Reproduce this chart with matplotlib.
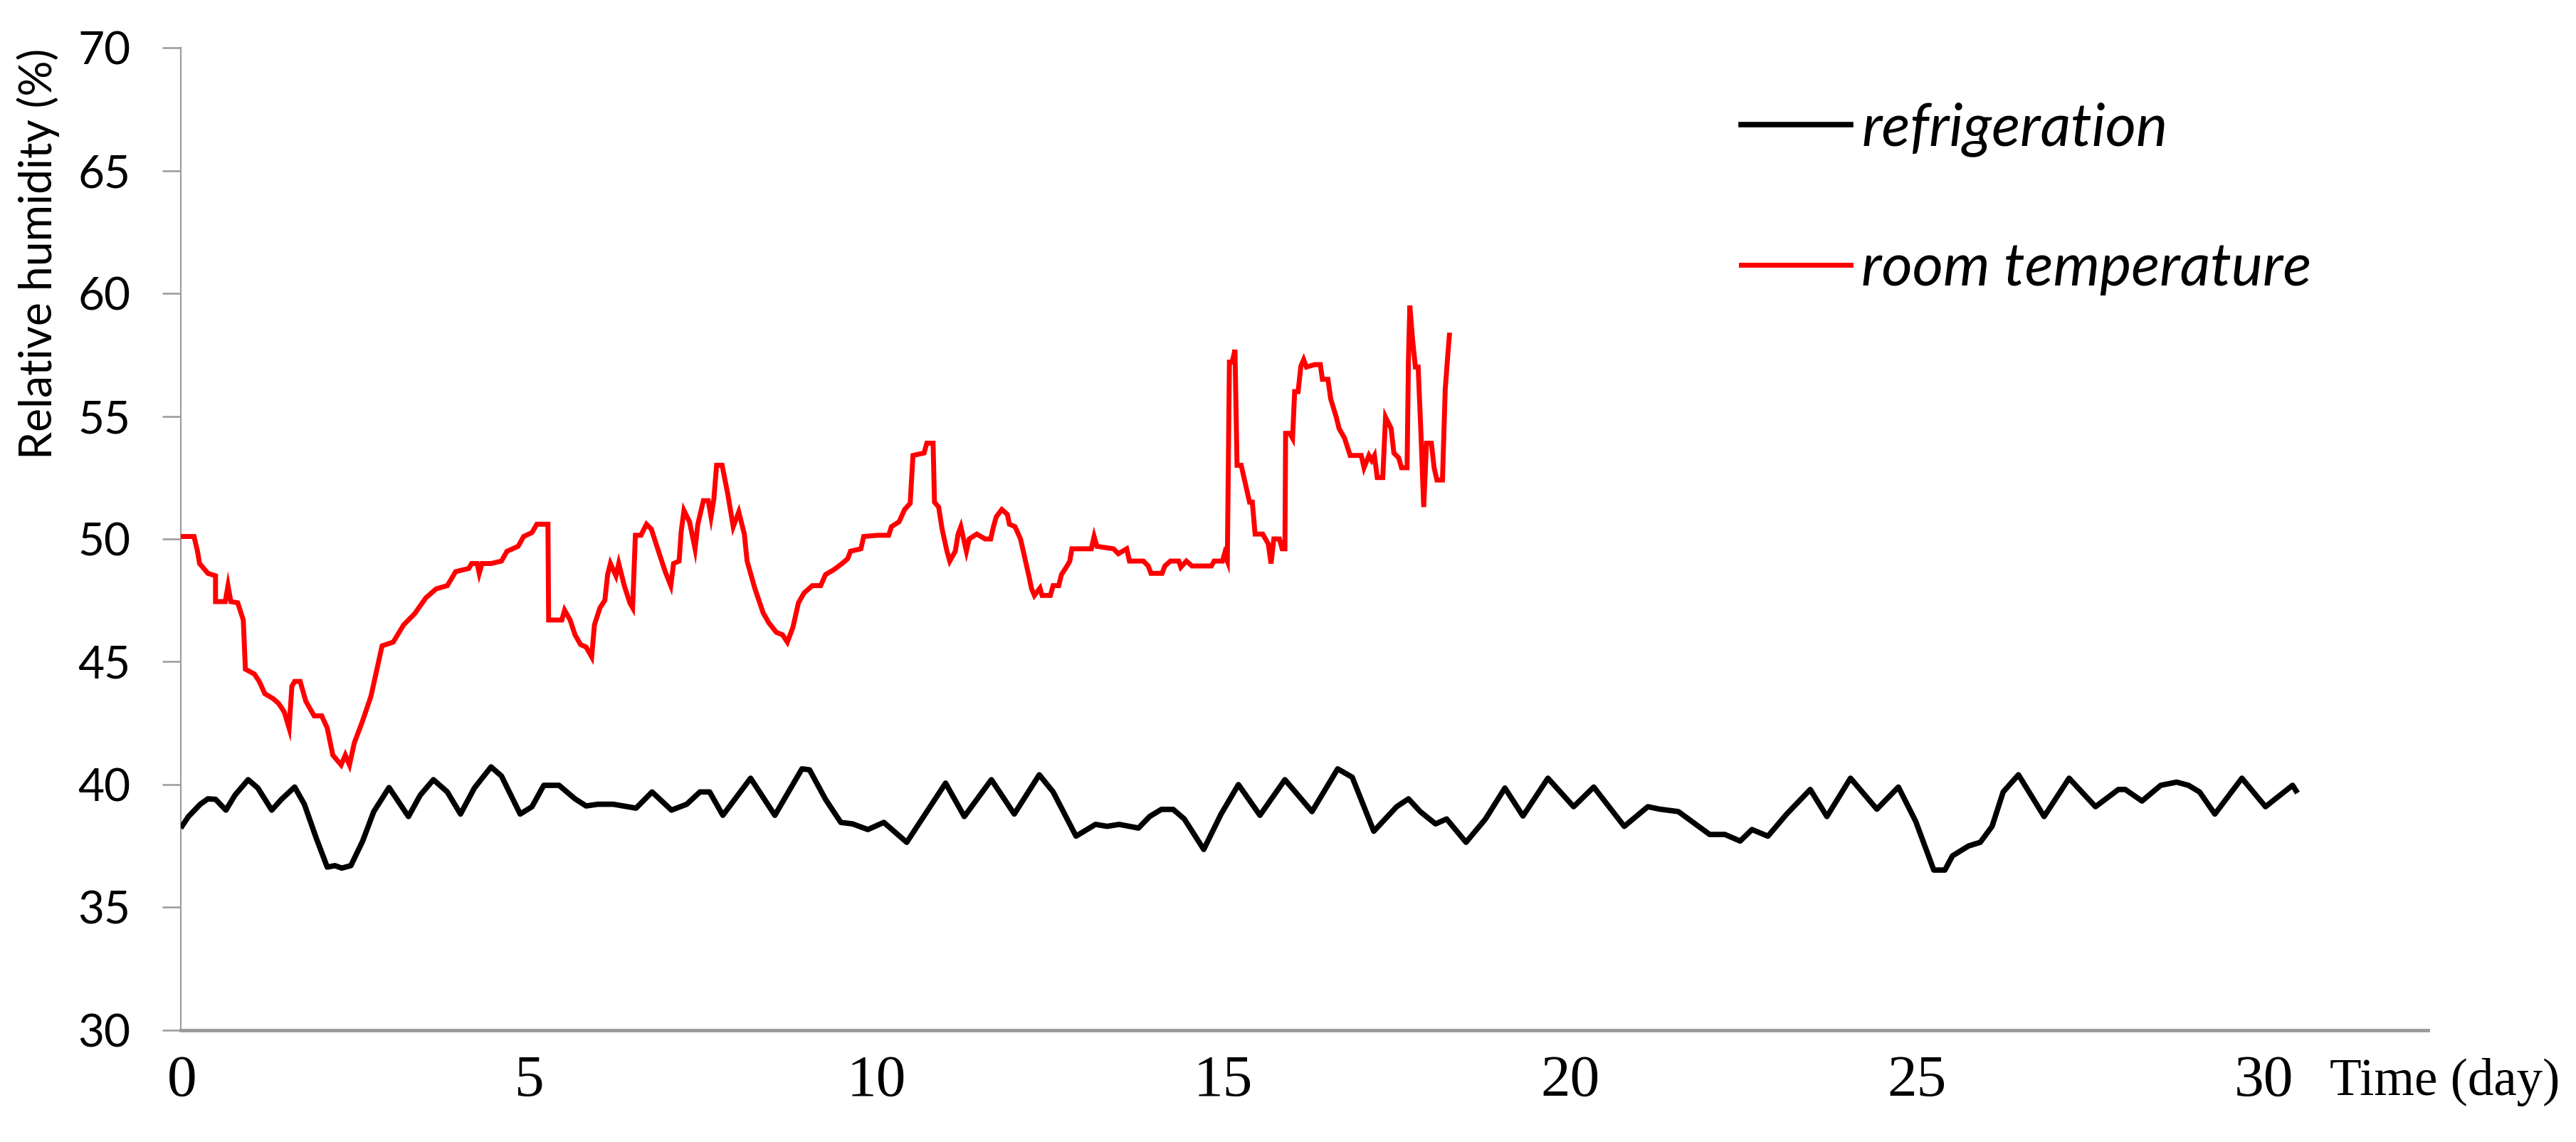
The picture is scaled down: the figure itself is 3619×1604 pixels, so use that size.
import matplotlib
matplotlib.use("Agg")
import matplotlib.pyplot as plt

# relative humidity readings
ref_day = [0.0, 0.09, 0.26, 0.37, 0.48, 0.63, 0.76, 0.95, 1.09, 1.29, 1.43, 1.62, 1.76, 1.93,
           2.09, 2.20, 2.30, 2.43, 2.60, 2.76, 2.98, 3.26, 3.43, 3.62, 3.82, 4.01, 4.21, 4.45,
           4.60, 4.87, 5.04, 5.21, 5.43, 5.66, 5.82, 5.99, 6.21, 6.54, 6.77, 7.05, 7.27, 7.46,
           7.60, 7.79, 8.19, 8.54, 8.93, 9.04, 9.27, 9.49, 9.66, 9.88, 10.11, 10.44, 11.00,
           11.27, 11.66, 11.99, 12.35, 12.55, 12.88, 13.16, 13.33, 13.50, 13.78, 13.94, 14.11,
           14.28, 14.44, 14.72, 14.97, 15.22, 15.53, 15.89, 16.28, 16.65, 16.86, 17.17, 17.50,
           17.67, 17.84, 18.06, 18.22, 18.50, 18.78, 19.06, 19.32, 19.68, 20.05, 20.34, 20.78,
           21.12, 21.29, 21.56, 22.01, 22.23, 22.45, 22.62, 22.85, 23.12, 23.46, 23.70, 24.04,
           24.42, 24.73, 24.98, 25.24, 25.40, 25.51, 25.74, 25.91, 26.08, 26.24, 26.46, 26.83,
           27.19, 27.57, 27.90, 28.00, 28.24, 28.51, 28.74, 28.91, 29.07, 29.29, 29.68, 30.02,
           30.41, 30.46]
ref_rh = [38.32, 38.7, 39.2, 39.42, 39.4, 38.96, 39.57, 40.2, 39.86, 38.96, 39.4, 39.9, 39.2, 37.83,
          36.64, 36.7, 36.6, 36.7, 37.7, 38.9, 39.88, 38.7, 39.57, 40.2, 39.7, 38.8, 39.86, 40.72,
          40.35, 38.8, 39.1, 39.97, 39.97, 39.42, 39.13, 39.2, 39.2, 39.04, 39.7, 38.96, 39.2, 39.7,
          39.7, 38.75, 40.26, 38.75, 40.64, 40.6, 39.4, 38.46, 38.4, 38.17, 38.46, 37.65, 40.06,
          38.7, 40.2, 38.8, 40.4, 39.7, 37.9, 38.38, 38.3, 38.38, 38.23, 38.7, 38.99,
          38.99, 38.6, 37.36, 38.8, 40.0, 38.75, 40.2, 38.9, 40.64, 40.3, 38.1, 39.1,
          39.42, 38.9, 38.4, 38.6, 37.65, 38.6, 39.86, 38.72, 40.26, 39.1, 39.9, 38.3,
          39.1, 39.0, 38.9, 37.97, 37.97, 37.7, 38.17, 37.9, 38.8, 39.8, 38.7, 40.26,
          39.0, 39.9, 38.5, 36.52, 36.52, 37.1, 37.5, 37.65, 38.3, 39.7, 40.4, 38.7,
          40.26, 39.1, 39.8, 39.8, 39.33, 39.97, 40.1, 39.97, 39.7, 38.8, 40.26, 39.1,
          39.97, 39.75]

room_day = [0.0, 0.17, 0.22, 0.25, 0.37, 0.48, 0.48, 0.62, 0.66, 0.70, 0.80, 0.88, 0.91, 1.04,
            1.11, 1.19, 1.31, 1.39, 1.47, 1.54, 1.58, 1.62, 1.70, 1.78, 1.90, 2.01, 2.09, 2.17,
            2.29, 2.35, 2.41, 2.48, 2.60, 2.72, 2.88, 3.04, 3.19, 3.35, 3.51, 3.66, 3.82, 3.94,
            4.13, 4.17, 4.25, 4.28, 4.32, 4.45, 4.60, 4.68, 4.84, 4.92, 5.04, 5.11, 5.27, 5.28,
            5.47, 5.51, 5.59, 5.66, 5.74, 5.82, 5.90, 5.94, 6.02, 6.09, 6.13, 6.17, 6.25, 6.29,
            6.37, 6.45, 6.49, 6.53, 6.61, 6.69, 6.76, 6.84, 6.96, 7.04, 7.08, 7.16, 7.19, 7.23,
            7.31, 7.39, 7.43, 7.51, 7.58, 7.62, 7.66, 7.70, 7.78, 7.86, 7.94, 8.02, 8.10, 8.14,
            8.25, 8.37, 8.45, 8.56, 8.65, 8.72, 8.80, 8.88, 8.96, 9.08, 9.20, 9.27, 9.39, 9.51,
            9.59, 9.63, 9.78, 9.82, 10.02, 10.18, 10.22, 10.33, 10.41, 10.49, 10.53, 10.69,
            10.73, 10.82, 10.84, 10.90, 10.95, 11.02, 11.06, 11.14, 11.18, 11.22, 11.30, 11.34,
            11.45, 11.57, 11.65, 11.69, 11.73, 11.81, 11.89, 11.92, 12.00, 12.08, 12.12, 12.16,
            12.20, 12.24, 12.28, 12.36, 12.39, 12.51, 12.55, 12.63, 12.67, 12.75, 12.79, 12.82,
            13.10, 13.14, 13.18, 13.42, 13.49, 13.61, 13.65, 13.85, 13.92, 13.96, 14.12, 14.16,
            14.24, 14.36, 14.39, 14.47, 14.55, 14.83, 14.87, 14.99, 15.02, 15.06, 15.09, 15.13,
            15.17, 15.20, 15.26, 15.30, 15.38, 15.42, 15.46, 15.57, 15.65, 15.69, 15.73, 15.81,
            15.85, 15.89, 15.90, 15.96, 16.00, 16.03, 16.08, 16.12, 16.16, 16.20, 16.32, 16.40,
            16.43, 16.51, 16.55, 16.63, 16.67, 16.75, 16.83, 16.99, 17.03, 17.10, 17.14, 17.18,
            17.22, 17.30, 17.34, 17.42, 17.46, 17.53, 17.57, 17.65, 17.67, 17.69, 17.73, 17.77,
            17.81, 17.85, 17.89, 17.93, 18.00, 18.04, 18.08, 18.16, 18.20, 18.24, 18.26]
room_rh = [50.1, 50.1, 49.5, 49.0, 48.6, 48.5, 47.45, 47.45, 48.1, 47.45, 47.4, 46.7, 44.7, 44.5,
           44.2, 43.7, 43.5, 43.3, 42.96, 42.3, 44.0, 44.2, 44.2, 43.4, 42.8, 42.8, 42.3, 41.2,
           40.8, 41.2, 40.8, 41.7, 42.6, 43.6, 45.65, 45.8, 46.5, 46.96, 47.6, 47.97, 48.1, 48.67,
           48.8, 49.0, 49.0, 48.6, 49.0, 49.0, 49.1, 49.5, 49.7, 50.1, 50.26, 50.6, 50.6, 46.7,
           46.7, 47.1, 46.7, 46.1, 45.7, 45.6, 45.2, 46.5, 47.2, 47.5, 48.55, 49.0, 48.5, 49.0,
           48.1, 47.4, 47.2, 50.15, 50.15, 50.6, 50.4, 49.7, 48.67, 48.1, 49.0, 49.1, 50.3, 51.16,
           50.7, 49.6, 50.6, 51.56, 51.56, 50.9, 51.6, 53.0, 53.0, 51.85, 50.5, 51.1, 50.2, 49.1,
           48.0, 47.0, 46.6, 46.2, 46.1, 45.8, 46.4, 47.4, 47.8, 48.1, 48.1, 48.55, 48.75, 49.0,
           49.2, 49.5, 49.6, 50.1, 50.15, 50.15, 50.5, 50.7, 51.2, 51.45, 53.4, 53.5,
           53.9, 53.9, 51.5, 51.3, 50.4, 49.5, 49.1, 49.5, 50.2, 50.5, 49.5, 50.0,
           50.2, 50.0, 50.0, 50.5, 50.9, 51.2, 51.0, 50.6, 50.5, 50.0, 49.5, 49.0,
           48.5, 47.97, 47.7, 48.0, 47.7, 47.7, 48.1, 48.1, 48.55, 48.9, 49.1, 49.6,
           49.6, 50.1, 49.7, 49.6, 49.4, 49.6, 49.1, 49.1, 48.9, 48.6, 48.6, 48.9,
           49.1, 49.1, 48.85, 49.1, 48.9, 48.9, 49.1, 49.1, 49.4, 49.1, 57.2, 57.2,
           57.7, 53.0, 53.0, 52.5, 51.5, 51.5, 50.2, 50.2, 49.8, 49.0, 50.0, 50.0,
           49.6, 49.6, 54.3, 54.3, 54.1, 56.0, 56.0, 57.04, 57.3, 57.0, 57.1, 57.1,
           56.5, 56.5, 55.7, 54.96, 54.5, 54.1, 53.4, 53.4, 52.9, 53.4, 53.2, 53.4,
           52.5, 52.5, 54.96, 54.5, 53.5, 53.3, 52.9, 52.9, 57.3, 59.5, 58.1, 57.0,
           57.0, 54.3, 51.3, 53.9, 53.9, 52.9, 52.4, 52.4, 56.1, 57.6, 58.3]

x_ticks = [0, 5, 10, 15, 20, 25, 30]
y_ticks = [30, 35, 40, 45, 50, 55, 60, 65, 70]

SANS = 'Lato'
AXIS_GREY = '#9a9a9a'

fig = plt.figure(figsize=(36.19, 16.04), dpi=100)
ax = fig.add_axes([0.0702, 0.0979, 0.8723, 0.8603])

ax.plot(ref_day, ref_rh, color='black', linewidth=5.5, label='refrigeration',
        solid_joinstyle='round', zorder=3)
ax.plot(room_day, room_rh, color='#ff0000', linewidth=5.0, label='room temperature',
        solid_joinstyle='miter', zorder=3)

ax.set_xlim(-0.02, 32.36)
ax.set_ylim(30, 70)
ax.set_xticks(x_ticks)
ax.set_yticks(y_ticks)

for side in ['top', 'right']:
    ax.spines[side].set_visible(False)
ax.spines['left'].set_color(AXIS_GREY)
ax.spines['left'].set_linewidth(1.5)
ax.spines['bottom'].set_color(AXIS_GREY)
ax.spines['bottom'].set_linewidth(3.5)

ax.tick_params(axis='y', direction='out', length=19, width=1.8, color=AXIS_GREY, pad=32)
ax.tick_params(axis='x', length=0, pad=25)
for lab in ax.get_yticklabels():
    lab.set_fontfamily(SANS)
    lab.set_fontsize(46)
for lab in ax.get_xticklabels():
    lab.set_fontfamily('Liberation Serif')
    lab.set_fontsize(60)

ax.set_ylabel('Relative humidity (%)', fontfamily=SANS, fontsize=45)
ax.yaxis.set_label_coords(-0.054, 0.79)

# axis title sits on the tick-label baseline, right of the "30"
fig.text(0.9044, 0.0411, 'Time (day)', fontfamily='Liberation Serif', fontsize=52.5,
         ha='left', va='baseline')

leg = ax.legend(loc='center left', bbox_to_anchor=(0.6759, 0.826), bbox_transform=fig.transFigure,
                frameon=False, borderpad=0, borderaxespad=0, handlelength=1.85,
                handletextpad=0.18, labelspacing=1.45,
                prop={'family': SANS, 'style': 'italic', 'size': 60})

fig.savefig('out.png', dpi=100)
